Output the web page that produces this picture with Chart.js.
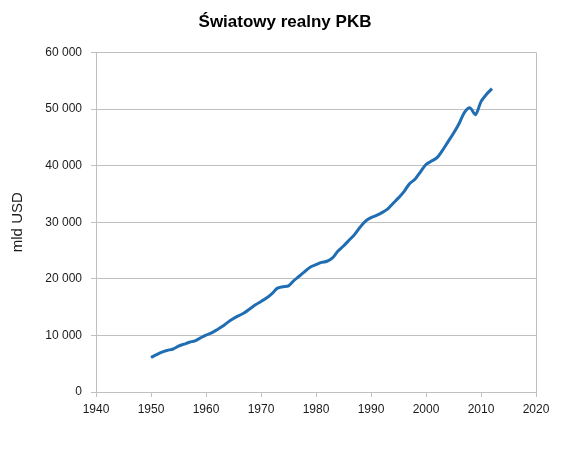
<!DOCTYPE html>
<html>
<head>
<meta charset="utf-8">
<script src="https://cdn.jsdelivr.net/npm/chart.js@4.4.0/dist/chart.umd.min.js"></script>
<style>
  html, body { margin: 0; padding: 0; background: #fff; }
  #wrap { width: 570px; height: 458px; }
</style>
</head>
<body>
<div id="wrap"><canvas id="gdp-chart" width="570" height="458"></canvas></div>
<script>
// Światowy realny PKB, mld USD, lata 1950-2012
var years = [
    1950, 1951, 1952, 1953, 1954, 1955, 1956, 1957, 1958, 1959,
    1960, 1961, 1962, 1963, 1964, 1965, 1966, 1967, 1968, 1969,
    1970, 1971, 1972, 1973, 1974, 1975, 1976, 1977, 1978, 1979,
    1980, 1981, 1982, 1983, 1984, 1985, 1986, 1987, 1988, 1989,
    1990, 1991, 1992, 1993, 1994, 1995, 1996, 1997, 1998, 1999,
    2000, 2001, 2002, 2003, 2004, 2005, 2006, 2007, 2008, 2009,
    2010, 2011, 2012
];
var gdp = [
    6100, 6600, 7050, 7350, 7600, 8100, 8450, 8800, 9050, 9550,
    10050, 10450, 11000, 11600, 12350, 13000, 13500, 14000, 14700, 15400,
    16000, 16600, 17400, 18350, 18600, 18750, 19700, 20500, 21300, 22100,
    22500, 22900, 23100, 23700, 24900, 25800, 26800, 27800, 29100, 30200,
    30800, 31200, 31700, 32300, 33300, 34300, 35400, 36800, 37600, 38900,
    40200, 40800, 41400, 42700, 44200, 45700, 47400, 49400, 50200, 49000,
    51300, 52600, 53600
];
var xTicks = [1940, 1950, 1960, 1970, 1980, 1990, 2000, 2010, 2020];
var yTicks = [0, 10000, 20000, 30000, 40000, 50000, 60000];

var points = years.map(function (y, i) { return { x: y, y: gdp[i] }; });

function spaced(v) {
    return String(v).replace(/\B(?=(\d{3})+(?!\d))/g, ' ');
}

var gridGrey = '#c0c0c0';
var textColor = '#1a1a1a';

var ctx = document.getElementById('gdp-chart').getContext('2d');
var gdpChart = new Chart(ctx, {
    type: 'line',
    data: {
        datasets: [{
            label: 'Światowy realny PKB',
            data: points,
            yAxisID: 'y',
            borderColor: '#1f6db3',
            borderWidth: 3,
            pointRadius: 0,
            tension: 0.3,
            fill: false
        }]
    },
    options: {
        responsive: false,
        animation: false,
        layout: { padding: 0 },
        plugins: {
            legend: { display: false },
            tooltip: { enabled: false },
            title: {
                display: true,
                text: 'Światowy realny PKB',
                color: '#000',
                font: { family: 'Arial, "Liberation Sans"', size: 17, weight: 'bold' },
                padding: { top: 12, bottom: 20 }
            }
        },
        scales: {
            x: {
                type: 'linear',
                min: 1940,
                max: 2020,
                afterBuildTicks: function (s) { s.ticks = xTicks.map(function (v) { return { value: v }; }); },
                afterFit: function (s) { s.height = 66; },
                ticks: {
                    color: textColor,
                    font: { family: 'Arial, "Liberation Sans"', size: 12 },
                    padding: 5,
                    maxRotation: 0,
                    callback: function (v) { return String(v); }
                },
                grid: {
                    color: function (c) { return c.tick && c.tick.value === 2020 ? gridGrey : 'rgba(0,0,0,0)'; },
                    tickColor: gridGrey,
                    tickLength: 5
                },
                border: { color: gridGrey }
            },
            y: {
                min: 0,
                max: 60000,
                afterBuildTicks: function (s) { s.ticks = yTicks.map(function (v) { return { value: v }; }); },
                afterFit: function (s) { s.width = 96; },
                ticks: {
                    color: textColor,
                    font: { family: 'Arial, "Liberation Sans"', size: 12 },
                    padding: 9,
                    callback: function (v) { return spaced(v); }
                },
                grid: {
                    color: gridGrey,
                    tickColor: gridGrey,
                    tickLength: 5
                },
                border: { color: gridGrey },
                title: {
                    display: true,
                    text: 'mld USD',
                    color: textColor,
                    font: { family: 'Arial, "Liberation Sans"', size: 15 },
                    padding: { top: 9, bottom: 0 }
                }
            },
            // empty right-hand margin so the title centres on the whole canvas
            spacer: {
                type: 'linear',
                position: 'right',
                display: true,
                afterFit: function (s) { s.width = 34; },
                grid: { display: false, drawOnChartArea: false },
                border: { display: false },
                ticks: { display: false }
            }
        }
    }
});
</script>
</body>
</html>
